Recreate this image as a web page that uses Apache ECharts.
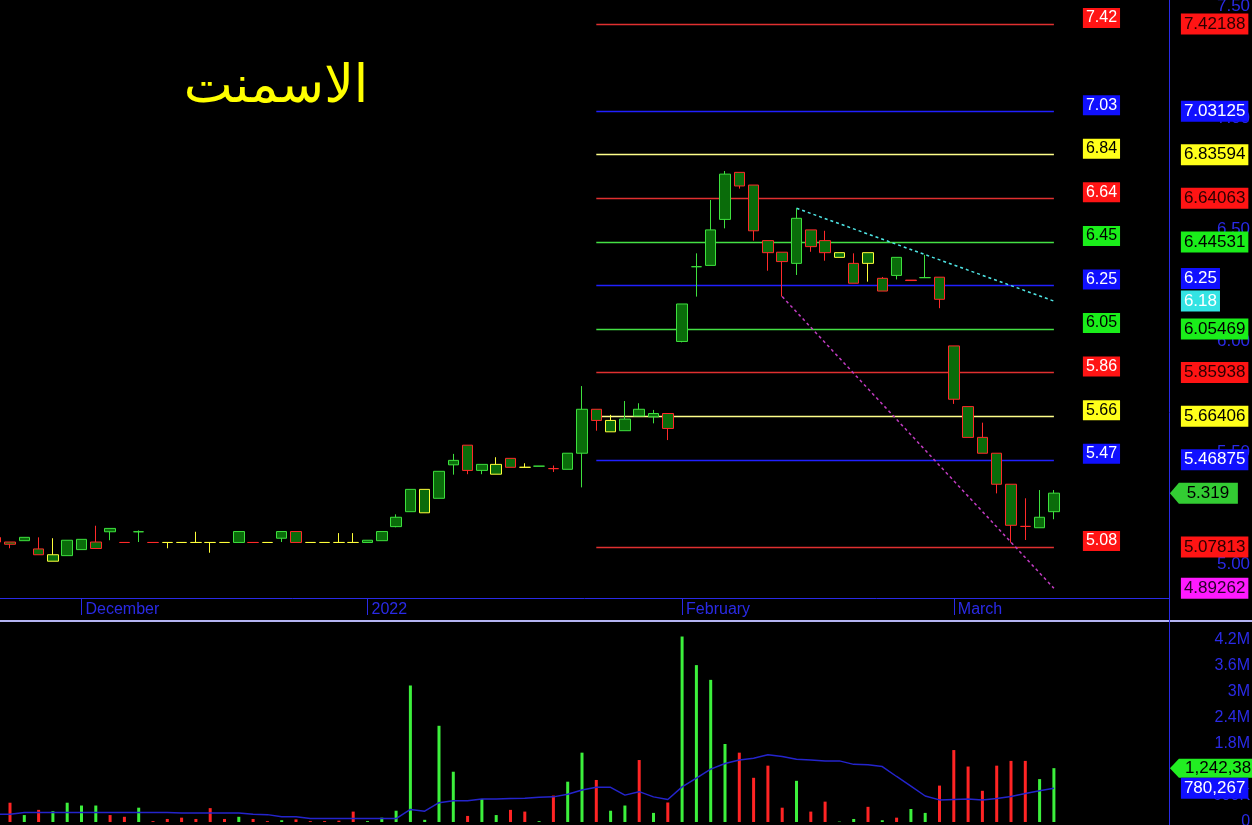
<!DOCTYPE html>
<html>
<head>
<meta charset="utf-8">
<script src="https://cdn.jsdelivr.net/npm/echarts@6/dist/echarts.min.js"></script>
<style>
  html, body { margin: 0; padding: 0; background: #000; }
  #chart { width: 1252px; height: 825px; }
</style>
</head>
<body>
<div id="chart"></div>
<script>
// ---- trading days ----
const dates = [
  '2021-11-23','2021-11-24','2021-11-25','2021-11-28','2021-11-29','2021-11-30',
  '2021-12-01','2021-12-02','2021-12-05','2021-12-06','2021-12-07','2021-12-08','2021-12-09',
  '2021-12-12','2021-12-13','2021-12-14','2021-12-15','2021-12-16','2021-12-19','2021-12-20',
  '2021-12-21','2021-12-22','2021-12-23','2021-12-26','2021-12-27','2021-12-28',
  '2022-01-02','2022-01-03','2022-01-04','2022-01-05','2022-01-06','2022-01-09','2022-01-10',
  '2022-01-11','2022-01-12','2022-01-13','2022-01-16','2022-01-17','2022-01-18','2022-01-19',
  '2022-01-20','2022-01-23','2022-01-24','2022-01-25','2022-01-26','2022-01-27','2022-01-30','2022-01-31',
  '2022-02-01','2022-02-02','2022-02-03','2022-02-06','2022-02-07','2022-02-08','2022-02-09',
  '2022-02-10','2022-02-13','2022-02-14','2022-02-15','2022-02-16','2022-02-17','2022-02-20',
  '2022-02-21','2022-02-22','2022-02-23','2022-02-24','2022-02-27',
  '2022-03-01','2022-03-02','2022-03-03','2022-03-06','2022-03-07','2022-03-08','2022-03-09','2022-03-10'
];
// empty sessions kept on the right of the last bar
const futureDates = ['2022-03-13','2022-03-14','2022-03-15','2022-03-16','2022-03-17','2022-03-20','2022-03-21','2022-03-22'];

// ---- prices ----
const opens = [
  5.12, 5.10, 5.106, 5.069, 5.014, 5.039, 5.066, 5.071, 5.161, 5.098,
  5.146, 5.098, 5.098, 5.098, 5.098, 5.098, 5.098, 5.098, 5.098, 5.098,
  5.117, 5.147, 5.098, 5.098, 5.098, 5.098, 5.098, 5.106, 5.169, 5.236,
  5.231, 5.296, 5.446, 5.534, 5.421, 5.404, 5.475, 5.435, 5.44, 5.429,
  5.426, 5.498, 5.695, 5.594, 5.599, 5.695, 5.661, 5.676, 5.999, 6.334,
  6.34, 6.546, 6.757, 6.70, 6.451, 6.399, 6.349, 6.499, 6.451, 6.376,
  6.26, 6.397, 6.225, 6.376, 6.272, 6.285, 6.287, 5.979, 5.707, 5.569,
  5.498, 5.359, 5.17, 5.164, 5.236
];
const closes = [
  5.10, 5.09, 5.121, 5.043, 5.043, 5.108, 5.112, 5.100, 5.146, 5.098,
  5.146, 5.098, 5.098, 5.098, 5.098, 5.098, 5.098, 5.147, 5.098, 5.098,
  5.147, 5.098, 5.098, 5.098, 5.098, 5.098, 5.108, 5.147, 5.211, 5.336,
  5.336, 5.417, 5.466, 5.421, 5.448, 5.448, 5.435, 5.435, 5.44, 5.429,
  5.498, 5.695, 5.645, 5.645, 5.651, 5.665, 5.676, 5.609, 6.167, 6.334,
  6.499, 6.749, 6.696, 6.495, 6.397, 6.357, 6.551, 6.424, 6.397, 6.397,
  6.349, 6.349, 6.282, 6.295, 6.274, 6.285, 6.188, 5.74, 5.569, 5.498,
  5.359, 5.175, 5.17, 5.211, 5.319
];
const lows = [
  5.10, 5.072, 5.106, 5.043, 5.014, 5.039, 5.066, 5.071, 5.108, 5.098,
  5.10, 5.098, 5.072, 5.098, 5.098, 5.052, 5.098, 5.098, 5.098, 5.098,
  5.10, 5.098, 5.098, 5.098, 5.098, 5.098, 5.098, 5.106, 5.166, 5.236,
  5.231, 5.296, 5.402, 5.404, 5.404, 5.404, 5.435, 5.435, 5.44, 5.414,
  5.426, 5.345, 5.599, 5.594, 5.599, 5.665, 5.632, 5.557, 5.995, 6.20,
  6.34, 6.506, 6.684, 6.451, 6.316, 6.20, 6.297, 6.401, 6.361, 6.376,
  6.26, 6.267, 6.225, 6.277, 6.272, 6.285, 6.148, 5.719, 5.569, 5.498,
  5.318, 5.097, 5.109, 5.164, 5.202
];
const highs = [
  5.12, 5.10, 5.121, 5.121, 5.117, 5.108, 5.112, 5.173, 5.161, 5.098,
  5.152, 5.098, 5.098, 5.098, 5.146, 5.098, 5.098, 5.147, 5.098, 5.098,
  5.147, 5.147, 5.098, 5.098, 5.14, 5.14, 5.108, 5.147, 5.224, 5.336,
  5.336, 5.417, 5.495, 5.534, 5.448, 5.48, 5.475, 5.453, 5.44, 5.443,
  5.498, 5.799, 5.695, 5.67, 5.732, 5.722, 5.692, 5.676, 6.167, 6.394,
  6.633, 6.763, 6.757, 6.70, 6.451, 6.399, 6.596, 6.499, 6.495, 6.397,
  6.394, 6.397, 6.288, 6.376, 6.274, 6.387, 6.287, 5.979, 5.707, 5.635,
  5.498, 5.359, 5.296, 5.333, 5.333
];

// ---- volume (millions of shares) and its moving average ----
const volumes = [
  0.30, 0.445, 0.16, 0.28, 0.25, 0.445, 0.38, 0.38, 0.16, 0.12,
  0.33, 0.02, 0.07, 0.10, 0.07, 0.32, 0.07, 0.12, 0.07, 0.02,
  0.04, 0.06, 0.02, 0.02, 0.03, 0.24, 0.02, 0.10, 0.26, 3.15,
  0.05, 2.22, 1.16, 0.14, 0.53, 0.16, 0.28, 0.24, 0.02, 0.61,
  0.93, 1.60, 0.97, 0.26, 0.38, 1.43, 0.21, 0.45, 4.28, 3.62,
  3.28, 1.80, 1.60, 1.02, 1.30, 0.33, 0.95, 0.24, 0.47, 0.01,
  0.07, 0.35, 0.04, 0.10, 0.30, 0.21, 0.84, 1.66, 1.28, 0.72,
  1.30, 1.41, 1.41, 0.99, 1.242387
];
const volumeMA = [
  0.18, 0.18, 0.22, 0.22, 0.22, 0.22, 0.22, 0.22, 0.22, 0.22,
  0.22, 0.22, 0.22, 0.21, 0.21, 0.21, 0.21, 0.21, 0.18, 0.17,
  0.12, 0.12, 0.08, 0.08, 0.08, 0.08, 0.08, 0.08, 0.08, 0.29,
  0.25, 0.445, 0.49, 0.49, 0.53, 0.53, 0.54, 0.55, 0.57, 0.58,
  0.64, 0.74, 0.80, 0.80, 0.62, 0.70, 0.58, 0.52, 0.81, 1.01,
  1.22, 1.35, 1.43, 1.47, 1.55, 1.51, 1.45, 1.43, 1.41, 1.41,
  1.33, 1.32, 1.28, 1.05, 0.83, 0.60, 0.51, 0.52, 0.53, 0.51,
  0.54, 0.59, 0.66, 0.72, 0.780267
];

// ---- retracement levels drawn from the first session of the rally ----
const fibLevels = [7.421875, 7.03125, 6.8359375, 6.640625, 6.4453125, 6.25, 6.0546875, 5.859375, 5.6640625, 5.46875, 5.078125];
const fibKinds  = ['red', 'blue', 'yellow', 'red', 'green', 'blue', 'green', 'red', 'yellow', 'blue', 'red'];
const fibStartIndex = 42;

// ---- trend lines: [start index, start price, end index, end price] ----
const resistanceLine = [56, 6.596, 74, 6.18];
const supportLine = [55, 6.20, 74, 4.89262];

// ---- axis ticks ----
const priceTicks = [5, 5.5, 6, 6.5, 7, 7.5];
const priceTickLabels = ['5.00', '5.50', '6.00', '6.50', '7.00', '7.50'];
const volTicks = [0, 0.6, 1.2, 1.8, 2.4, 3, 3.6, 4.2];
const volTickLabels = ['0', '600K', '1.2M', '1.8M', '2.4M', '3M', '3.6M', '4.2M'];
const monthNames = ['', 'February', 'March', 'April', 'May', 'June', 'July', 'August', 'September', 'October', 'November', 'December'];

const titleText = 'الاسمنت';

// ---- styling ----
const AXIS_BLUE = '#2a2ae6';
const CANDLE = {
  upFill: '#0a6c0a', downFill: '#a80000',
  upEdge: '#3ee03e', downEdge: '#ff2a2a', flatEdge: '#ffff3a'
};
const VOL = { up: '#3cf03c', down: '#ff2424' };
const KIND = {
  red:    { line: '#e03030', bg: '#ff1414', leftText: '#ffffff', rightText: '#2a0000' },
  blue:   { line: '#2020ff', bg: '#1010ff', leftText: '#ffffff', rightText: '#ffffff' },
  yellow: { line: '#ffff8a', bg: '#ffff1a', leftText: '#000000', rightText: '#000000' },
  green:  { line: '#44e044', bg: '#1aee1a', leftText: '#000000', rightText: '#000000' }
};
const FONT = "'Liberation Sans', Arial, sans-serif";
const HIDDEN_LINE = { color: 'rgba(0,0,0,0)', width: 0 };

const allDates = dates.concat(futureDates);
const lastIdx = dates.length - 1;

// candle colouring: edge by change vs previous close, fill by close vs open
const edgeColor = (i) => {
  const prev = i > 0 ? closes[i - 1] : opens[i];
  return closes[i] > prev ? CANDLE.upEdge : (closes[i] < prev ? CANDLE.downEdge : CANDLE.flatEdge);
};
const candleData = dates.map((d, i) => {
  const edge = edgeColor(i);
  return {
    value: [opens[i], closes[i], lows[i], highs[i]],
    itemStyle: { color: CANDLE.upFill, color0: CANDLE.downFill, borderColor: edge, borderColor0: edge, borderColorDoji: edge }
  };
});
const volumeData = dates.map((d, i) => {
  let up;
  if (closes[i] > opens[i]) up = true;
  else if (closes[i] < opens[i]) up = false;
  else up = edgeColor(i) === CANDLE.upEdge;
  return { value: volumes[i], itemStyle: { color: up ? VOL.up : VOL.down } };
});

const isMonthStart = (index) => {
  if (index <= 0 || index > lastIdx) return false;
  return dates[index].slice(5, 7) !== dates[index - 1].slice(5, 7);
};
const monthLabel = (value) => {
  const m = parseInt(value.slice(5, 7), 10);
  return m === 1 ? value.slice(0, 4) : monthNames[m - 1];
};
const tickLabel = (ticks, labels) => (v) => {
  for (let k = 0; k < ticks.length; k++) if (Math.abs(ticks[k] - v) < 1e-9) return labels[k];
  return '';
};

// tag drawn right of the last bar (carried by an invisible segment)
const rightTag = (value, text, bg, fg, lift) => [
  {
    coord: [dates[lastIdx - 1], value],
    lineStyle: HIDDEN_LINE,
    label: {
      show: true, position: 'end', distance: 127,
      formatter: '{t|' + text + '}',
      padding: [0, 0, lift || 0, 0],
      rich: { t: { backgroundColor: bg, color: fg, fontSize: 17, fontFamily: FONT, padding: [2, 3, 2, 3], lineHeight: 17 } }
    }
  },
  { coord: [dates[lastIdx], value] }
];

const priceMarkLines = [];
fibLevels.forEach((v, k) => {
  const s = KIND[fibKinds[k]];
  priceMarkLines.push([
    {
      coord: [dates[fibStartIndex], v],
      lineStyle: { color: s.line, width: 1.4, type: 'solid' },
      label: {
        show: true, position: 'end', distance: 29,
        formatter: '{t|' + v.toFixed(2) + '}',
        padding: [0, 0, 12, 0],
        rich: { t: { backgroundColor: s.bg, color: s.leftText, fontSize: 16, fontFamily: FONT, padding: [2, 3, 2, 3], lineHeight: 16 } }
      }
    },
    { coord: [dates[lastIdx], v] }
  ]);
  const txt = String(parseFloat(v.toFixed(5)));
  priceMarkLines.push(rightTag(v, txt, s.bg, s.rightText, txt === '6.25' ? 14 : 0));
});
priceMarkLines.push([
  { coord: [dates[resistanceLine[0]], resistanceLine[1]], lineStyle: { color: '#4fe6e6', width: 1.5, type: [3, 3] }, label: { show: false } },
  { coord: [dates[resistanceLine[2]], resistanceLine[3]] }
]);
priceMarkLines.push([
  { coord: [dates[supportLine[0]], supportLine[1]], lineStyle: { color: '#c23cc2', width: 1.5, type: [3, 3] }, label: { show: false } },
  { coord: [dates[supportLine[2]], supportLine[3]] }
]);
priceMarkLines.push(rightTag(resistanceLine[3], resistanceLine[3].toFixed(2), '#33e3e3', '#ffffff', 0));
priceMarkLines.push(rightTag(supportLine[3], supportLine[3].toFixed(5), '#ff1aff', '#2a002a', 0));

const fmtInt = (m) => Math.round(m * 1e6).toLocaleString('en-US');
const arrowPath = 'path://M0,10L9,0H90V20H9Z';

const chart = echarts.init(document.getElementById('chart'), null, { renderer: 'canvas' });
chart.setOption({
  backgroundColor: '#000000',
  animation: false,
  textStyle: { fontFamily: FONT },
  grid: [
    { left: -11.45, top: 0, width: 1186.9, height: 599, outerBoundsMode: 'none', containLabel: false },
    { left: -11.45, top: 622, width: 1186.9, height: 200, outerBoundsMode: 'none', containLabel: false }
  ],
  xAxis: [
    {
      type: 'category', gridIndex: 0, data: allDates, boundaryGap: true,
      axisLine: { show: false },
      axisTick: { show: true, alignWithLabel: true, interval: isMonthStart, length: 16, lineStyle: { color: AXIS_BLUE, width: 1 } },
      axisLabel: { interval: isMonthStart, formatter: monthLabel, color: AXIS_BLUE, fontSize: 16, align: 'left', margin: 3, padding: [0, 0, 0, 4] },
      splitLine: { show: false }
    },
    { type: 'category', gridIndex: 1, data: allDates, boundaryGap: true, show: false }
  ],
  yAxis: [
    {
      type: 'value', gridIndex: 0, position: 'right', offset: -6.4,
      min: 4.8446, max: 7.5295,
      splitLine: { show: false }, axisLine: { show: false }, axisTick: { show: false },
      axisLabel: { customValues: priceTicks, formatter: tickLabel(priceTicks, priceTickLabels), color: AXIS_BLUE, fontSize: 17, align: 'right', margin: 81 }
    },
    {
      type: 'value', gridIndex: 1, position: 'right', offset: -6.4,
      min: 0, max: 4.615,
      splitLine: { show: false }, axisLine: { show: false }, axisTick: { show: false },
      axisLabel: { customValues: volTicks, formatter: tickLabel(volTicks, volTickLabels), color: AXIS_BLUE, fontSize: 16, align: 'right', margin: 81 }
    }
  ],
  series: [
    {
      type: 'candlestick', name: 'price', xAxisIndex: 0, yAxisIndex: 0,
      data: candleData, barWidth: 11, clip: false,
      itemStyle: { borderWidth: 1 },
      markLine: { silent: true, symbol: ['none', 'none'], z: 1, animation: false, data: priceMarkLines },
      markPoint: {
        silent: true, animation: false,
        data: [{
          coord: [dates[lastIdx], closes[lastIdx]],
          symbol: 'path://M0,10L9,0H68V20H9Z', symbolSize: [68, 21], symbolKeepAspect: false,
          symbolOffset: [150, 0],
          itemStyle: { color: '#33cc33' },
          label: { show: true, position: 'inside', formatter: closes[lastIdx].toFixed(3), color: '#000000', fontSize: 17, offset: [4, 0] }
        }]
      }
    },
    {
      type: 'bar', name: 'volume', xAxisIndex: 1, yAxisIndex: 1,
      data: volumeData, barWidth: 3, clip: false,
      markPoint: {
        silent: true, animation: false,
        data: [{
          coord: [dates[lastIdx], volumes[lastIdx]],
          symbol: arrowPath, symbolSize: [90, 19], symbolKeepAspect: false,
          symbolOffset: [161, 0],
          itemStyle: { color: '#22ee22' },
          label: { show: true, position: 'inside', formatter: fmtInt(volumes[lastIdx]), color: '#000000', fontSize: 17, offset: [8, 0] }
        }]
      }
    },
    {
      type: 'line', name: 'volume average', xAxisIndex: 1, yAxisIndex: 1,
      data: volumeMA, symbol: 'none', clip: false,
      lineStyle: { color: '#2424cc', width: 1.5 },
      markLine: {
        silent: true, symbol: ['none', 'none'], animation: false,
        data: [rightTag(volumeMA[lastIdx], fmtInt(volumeMA[lastIdx]), '#1010ff', '#ffffff', 0)]
      }
    }
  ],
  graphic: [
    { type: 'line', silent: true, z: 50, shape: { x1: 0, y1: 598.5, x2: 1169, y2: 598.5 }, style: { stroke: AXIS_BLUE, lineWidth: 1 } },
    { type: 'line', silent: true, z: 50, shape: { x1: 0, y1: 621, x2: 1252, y2: 621 }, style: { stroke: '#b4b4f2', lineWidth: 2 } },
    { type: 'line', silent: true, z: 50, shape: { x1: 1169.5, y1: 0, x2: 1169.5, y2: 825 }, style: { stroke: AXIS_BLUE, lineWidth: 1 } },
    { type: 'text', silent: true, z: 50, x: 276, y: 88, style: { text: titleText, fill: '#ffff00', font: "52px 'DejaVu Sans', 'Noto Sans', sans-serif", textAlign: 'center', textVerticalAlign: 'middle' } }
  ]
});
</script>
</body>
</html>
